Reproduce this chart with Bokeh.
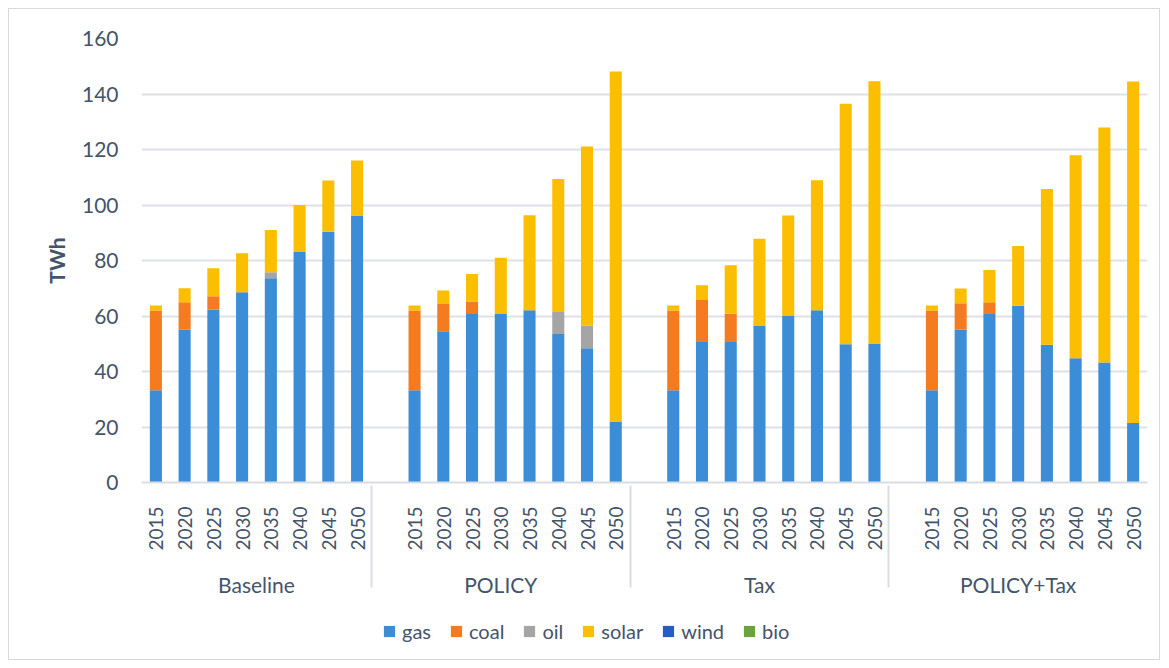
import math
from bokeh.plotting import figure
from bokeh.layouts import column
from bokeh.models import FactorRange, ColumnDataSource, Legend, LegendItem, Range1d, FixedTicker
from bokeh.embed import file_html
from bokeh.resources import INLINE

years = ["2015", "2020", "2025", "2030", "2035", "2040", "2045", "2050"]
scenarios = ["Baseline", "POLICY", "Tax", "POLICY+Tax"]
series = ["gas", "coal", "oil", "solar", "wind", "bio"]
colors = ["#3a8dd6", "#f57b20", "#a5a5a5", "#fcbe00", "#245fbf", "#6aa33c"]
y_ticks = [0, 20, 40, 60, 80, 100, 120, 140, 160]

gas_baseline = [33.2, 55.1, 62.3, 68.6, 73.6, 83.1, 90.4, 96.2]
coal_baseline = [28.8, 9.9, 4.8, 0, 0, 0, 0, 0]
oil_baseline = [0, 0, 0, 0, 2.2, 0, 0, 0]
solar_baseline = [1.8, 5.0, 10.1, 14.0, 15.2, 16.9, 18.4, 19.8]

gas_policy = [33.2, 54.5, 60.7, 60.7, 62.1, 53.5, 48.4, 22.0]
coal_policy = [28.8, 9.8, 4.5, 0, 0, 0, 0, 0]
oil_policy = [0, 0, 0, 0, 0, 7.9, 8.2, 0]
solar_policy = [1.8, 4.9, 9.9, 20.3, 34.2, 48.0, 64.5, 126.1]

gas_tax = [33.2, 50.6, 50.6, 56.6, 60.2, 62.1, 49.8, 50.1]
coal_tax = [28.8, 15.2, 10.2, 0, 0, 0, 0, 0]
oil_tax = [0, 0, 0, 0, 0, 0, 0, 0]
solar_tax = [1.8, 5.3, 17.5, 31.2, 36.0, 46.8, 86.7, 94.5]

gas_policytax = [33.2, 55.1, 60.7, 63.7, 49.6, 44.8, 43.2, 21.4]
coal_policytax = [28.8, 9.5, 4.3, 0, 0, 0, 0, 0]
oil_policytax = [0, 0, 0, 0, 0, 0, 0, 0]
solar_policytax = [1.8, 5.3, 11.6, 21.5, 56.2, 73.1, 84.7, 123.1]

wind_all = [0, 0, 0, 0, 0, 0, 0, 0]
bio_all = [0, 0, 0, 0, 0, 0, 0, 0]

table = {
    "Baseline": (gas_baseline, coal_baseline, oil_baseline, solar_baseline),
    "POLICY": (gas_policy, coal_policy, oil_policy, solar_policy),
    "Tax": (gas_tax, coal_tax, oil_tax, solar_tax),
    "POLICY+Tax": (gas_policytax, coal_policytax, oil_policytax, solar_policytax),
}

data = {"x": [], "gas": [], "coal": [], "oil": [], "solar": [], "wind": [], "bio": []}
for s in scenarios:
    g, c, o, so = table[s]
    if s != "Baseline":
        data["x"].append((s, " "))
        for k in series:
            data[k].append(0)
    for i, y in enumerate(years):
        data["x"].append((s, y))
        data["gas"].append(g[i])
        data["coal"].append(c[i])
        data["oil"].append(o[i])
        data["solar"].append(so[i])
        data["wind"].append(wind_all[i])
        data["bio"].append(bio_all[i])

source = ColumnDataSource(data)
xr = FactorRange(*data["x"], factor_padding=0, group_padding=0, range_padding=0)

FONT = "Lato"
TXT = "#44546a"

p = figure(x_range=xr, y_range=Range1d(0, 160), width=1150, height=600,
           output_backend="svg", toolbar_location=None,
           min_border_left=132, min_border_right=12, min_border_top=29, min_border_bottom=127)
p.outline_line_color = None

renderers = p.vbar_stack(series, x="x", width=0.42, source=source, color=colors, line_color=None)

p.ygrid.ticker = FixedTicker(ticks=y_ticks)
p.ygrid.grid_line_color = "#dde1e7"
p.ygrid.grid_line_width = 2
p.xgrid.grid_line_color = None

p.yaxis.ticker = FixedTicker(ticks=y_ticks)
p.yaxis.axis_line_color = None
p.yaxis.major_tick_line_color = None
p.yaxis.minor_tick_line_color = None
p.yaxis.major_label_text_font = FONT
p.yaxis.major_label_text_font_size = "21px"
p.yaxis.major_label_text_color = TXT
p.yaxis.major_label_standoff = 17
p.yaxis.axis_label = "TWh"
p.yaxis.axis_label_text_font = FONT
p.yaxis.axis_label_text_font_style = "bold"
p.yaxis.axis_label_text_font_size = "21px"
p.yaxis.axis_label_text_color = TXT
p.yaxis.axis_label_standoff = 10

xa = p.xaxis[0]
xa.axis_line_color = "#d9dde3"
xa.axis_line_width = 2
xa.major_tick_line_color = None
xa.minor_tick_line_color = None
xa.major_label_orientation = math.pi / 2
xa.major_label_text_font = FONT
xa.major_label_text_font_size = "19px"
xa.major_label_text_color = TXT
xa.major_label_standoff = 18
xa.group_text_font = FONT
xa.group_text_font_size = "21px"
xa.group_text_color = TXT
xa.group_text_font_style = "normal"
xa.separator_line_color = "#d9dde3"
xa.separator_line_width = 2

# legend strip below the chart (proxy bars lie outside the visible range)
lg = figure(width=1150, height=50, output_backend="svg", toolbar_location=None,
            x_axis_type=None, y_axis_type=None, x_range=Range1d(0, 1), y_range=Range1d(0, 1),
            min_border=0)
lg.outline_line_color = None
lg.grid.grid_line_color = None
proxy = ColumnDataSource({"x": [-5.0], "top": [0.0]})
leg_renderers = [lg.vbar(x="x", top="top", width=0.1, source=proxy, color=c, line_color=None)
                 for c in colors]
items = [LegendItem(label=s, renderers=[r]) for s, r in zip(series, leg_renderers)]
legend = Legend(items=items, orientation="horizontal", location=(241, 16),
                label_text_font=FONT, label_text_font_size="20px", label_text_color=TXT,
                glyph_width=14, glyph_height=14, spacing=18, label_standoff=6,
                border_line_color=None, background_fill_alpha=0, margin=0, padding=4)
lg.add_layout(legend)

layout = column(p, lg, spacing=0)
layout.margin = (8, 0, 0, 8)
layout.styles = {"border": "1px solid #d9d9d9"}

open("out.html", "w").write(file_html(layout, INLINE))
